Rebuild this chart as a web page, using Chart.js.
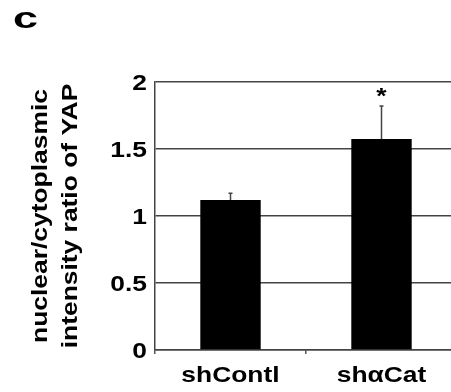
<!DOCTYPE html>
<html>
<head>
<meta charset="utf-8">
<script src="https://cdn.jsdelivr.net/npm/chart.js@4.4.0/dist/chart.umd.min.js"></script>
<style>
  html, body { margin: 0; padding: 0; background: #fff; overflow: hidden; }
  #wrap { width: 460px; height: 392px; }
</style>
</head>
<body>
<div id="wrap"><canvas id="yapChart" width="460" height="392"></canvas></div>
<script>
// values
const categories = ["shContl", "shαCat"];
const ratioMeans = [1.12, 1.575];
const ratioErrTop = [1.17, 1.82];
const sigMarks = ["", "*"];
const yTicks = [0, 0.5, 1, 1.5, 2];
const yTitle = ["nuclear/cytoplasmic", "intensity ratio of YAP"];

const FONT = "'Liberation Sans', Arial, Helvetica, sans-serif";
const TEXT_FONT = "bold 22px " + FONT;
const STRETCH = 1.2;   // the figure's lettering is a bit wider than plain Arial

// draw text widened along its reading direction
function wideText(ctx, text, x, y, align, rot, font, sx) {
    ctx.save();
    ctx.translate(x, y);
    ctx.rotate(rot || 0);
    ctx.scale(sx || STRETCH, 1);
    ctx.font = font || TEXT_FONT;
    ctx.fillStyle = "#000";
    ctx.textAlign = align;
    ctx.textBaseline = "alphabetic";
    ctx.fillText(text, 0, 0);
    ctx.restore();
}

// tick labels, axis title, panel letter
const labelsPlugin = {
    id: "labels",
    afterDraw(chart) {
        const ctx = chart.ctx;
        const xs = chart.scales.x;
        const ys = chart.scales.y;
        yTicks.forEach(v => {
            wideText(ctx, String(v), xs.left - 8, ys.getPixelForValue(v) + 8, "right");
        });
        categories.forEach((c, i) => {
            wideText(ctx, c, xs.getPixelForValue(i), 382, "center");
        });
        const midY = (ys.top + ys.bottom) / 2;
        wideText(ctx, yTitle[0], 47, midY, "center", -Math.PI / 2);
        wideText(ctx, yTitle[1], 77, midY, "center", -Math.PI / 2);
        wideText(ctx, "c", 13, 28, "left", 0, "bold 29px " + FONT, 1.55);
    }
};

// upward-only error bars + significance star
const errorBarPlugin = {
    id: "errorBars",
    afterDatasetsDraw(chart) {
        const ctx = chart.ctx;
        const meta = chart.getDatasetMeta(0);
        const yScale = chart.scales.y;
        ctx.save();
        meta.data.forEach((bar, i) => {
            const x = bar.x;
            const yTop = yScale.getPixelForValue(ratioErrTop[i]);
            ctx.strokeStyle = "#444";
            ctx.lineWidth = 1.5;
            ctx.beginPath();
            ctx.moveTo(x, bar.y);
            ctx.lineTo(x, yTop);
            ctx.moveTo(x - 2, yTop);
            ctx.lineTo(x + 2, yTop);
            ctx.stroke();
            if (sigMarks[i]) {
                wideText(ctx, sigMarks[i], x, yTop - 3, "center");
            }
        });
        ctx.restore();
    }
};

const ctx = document.getElementById("yapChart").getContext("2d");
new Chart(ctx, {
    type: "bar",
    data: {
        labels: categories,
        datasets: [{
            data: ratioMeans,
            backgroundColor: "#000",
            borderWidth: 0,
            categoryPercentage: 0.4,
            barPercentage: 1.0
        }]
    },
    options: {
        responsive: false,
        animation: false,
        layout: { padding: { top: 82, right: 3, left: 0, bottom: 0 } },
        plugins: {
            legend: { display: false },
            tooltip: { enabled: false }
        },
        scales: {
            x: {
                afterFit(scale) { scale.height = 42; },
                grid: {
                    drawOnChartArea: false,
                    drawTicks: true,
                    tickLength: 4,
                    color: "#555",
                    lineWidth: 1.5
                },
                border: { display: true, color: "#444", width: 1.5 },
                ticks: { display: false }
            },
            y: {
                min: 0,
                max: 2,
                afterFit(scale) { scale.width = 155; },
                afterBuildTicks(scale) {
                    scale.ticks = yTicks.map(v => ({ value: v }));
                },
                grid: {
                    drawTicks: false,
                    color: "#444",
                    lineWidth: 1.5
                },
                border: { display: true, color: "#444", width: 1.5 },
                ticks: { display: false }
            }
        }
    },
    plugins: [errorBarPlugin, labelsPlugin]
});
</script>
</body>
</html>
